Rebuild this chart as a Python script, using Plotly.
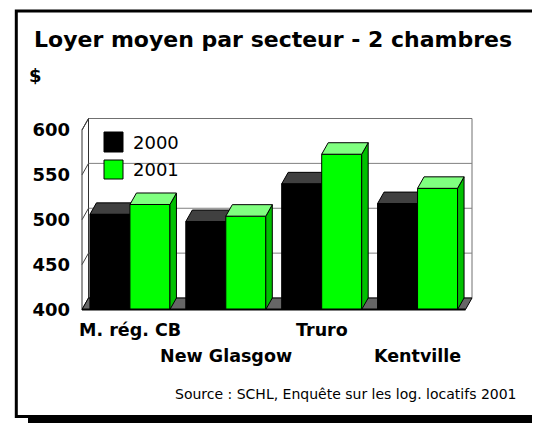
import plotly.graph_objects as go

# ---------------- data ----------------
categories = ["M. rég. CB", "New Glasgow", "Truro", "Kentville"]
series_names = ["2000", "2001"]
rent_2000 = [506, 498, 540, 518]
rent_2001 = [517, 504, 573, 535]
y_ticks = [400, 450, 500, 550, 600]
title_text = "Loyer moyen par secteur - 2 chambres"
unit_text = "$"
source_text = "Source : SCHL, Enquête sur les log. locatifs 2001"

# ---------------- styles / geometry ----------------
FONT = "DejaVu Sans"
FRONT = {"2000": "#000000", "2001": "#00FF00"}
TOP = {"2000": "#404040", "2001": "#80FF80"}
SIDE = {"2000": "#202020", "2001": "#00C000"}
FLOOR_VALUE = 400
TOP_VALUE = 600

OFF = 8                      # page body margin of the html page
W, H = 540 - OFF, 423 - OFF
# geometry below is given in page pixels
PL, PR, PT, PB = 76, 478, 112, 314          # plot area edges
FRONT_LEFT_PX = 82
CAT_PX = 95.875
FLOOR_PX = 309.5
UNIT_PX = 0.8975
DX_PX, DY_PX = 6.5, 11.5
BAR_PX = 40

xmin = -0.5 - (FRONT_LEFT_PX - PL) / CAT_PX
xmax = xmin + (PR - PL) / CAT_PX
ymin = FLOOR_VALUE - (PB - FLOOR_PX) / UNIT_PX
ymax = ymin + (PB - PT) / UNIT_PX
dx = DX_PX / CAT_PX
dy = DY_PX / UNIT_PX
bw = BAR_PX / CAT_PX
bargap = 1 - 2 * bw
n = len(categories)
xl_front, xr_front = -0.5, n - 0.5


def px(x):
    return (x - PL) / (PR - PL)


def py(y):
    return (PB - y) / (PB - PT)


def path(pts):
    return "M " + " L ".join(f"{a},{b}" for a, b in pts) + " Z"


shapes = []
# shadow + frame
shapes.append(dict(type="rect", xref="paper", yref="paper", x0=px(28), x1=px(580),
                   y0=py(460), y1=py(20), fillcolor="black", line=dict(width=0), layer="below"))
shapes.append(dict(type="rect", xref="paper", yref="paper", x0=px(16.3), x1=px(536),
                   y0=py(416.5), y1=py(11), fillcolor="white",
                   line=dict(color="black", width=3), layer="below"))
# back wall
shapes.append(dict(type="rect", xref="x", yref="y", x0=xl_front + dx, x1=xr_front + dx,
                   y0=FLOOR_VALUE + dy, y1=TOP_VALUE + dy, fillcolor="white",
                   line=dict(color="#707070", width=1), layer="below"))
# left wall
shapes.append(dict(type="path", xref="x", yref="y",
                   path=path([(xl_front, FLOOR_VALUE), (xl_front, TOP_VALUE),
                              (xl_front + dx, TOP_VALUE + dy), (xl_front + dx, FLOOR_VALUE + dy)]),
                   fillcolor="white", line=dict(color="#303030", width=1), layer="below"))
# gridlines on walls
for v in y_ticks[1:-1]:
    shapes.append(dict(type="line", xref="x", yref="y", x0=xl_front + dx, x1=xr_front + dx,
                       y0=v + dy, y1=v + dy, line=dict(color="#808080", width=1), layer="below"))
for v in y_ticks[1:]:
    shapes.append(dict(type="line", xref="x", yref="y", x0=xl_front, x1=xl_front + dx,
                       y0=v, y1=v + dy, line=dict(color="#404040", width=1), layer="below"))
# floor
shapes.append(dict(type="path", xref="x", yref="y",
                   path=path([(xl_front, FLOOR_VALUE), (xr_front, FLOOR_VALUE),
                              (xr_front + dx, FLOOR_VALUE + dy), (xl_front + dx, FLOOR_VALUE + dy)]),
                   fillcolor="#666666", line=dict(color="black", width=1), layer="below"))

# 3D faces for the 2000 bars (drawn below the front faces)
for i, v in enumerate(rent_2000):
    a, b = i - bw, i
    shapes.append(dict(type="path", xref="x", yref="y",
                       path=path([(b, FLOOR_VALUE), (b, v), (b + dx, v + dy), (b + dx, FLOOR_VALUE + dy)]),
                       fillcolor=SIDE["2000"], line=dict(color="black", width=1), layer="below"))
    shapes.append(dict(type="path", xref="x", yref="y",
                       path=path([(a, v), (b, v), (b + dx, v + dy), (a + dx, v + dy)]),
                       fillcolor=TOP["2000"], line=dict(color="black", width=1), layer="below"))

# floor front edge
shapes.append(dict(type="line", xref="x", yref="y", x0=xl_front, x1=xr_front,
                   y0=FLOOR_VALUE, y1=FLOOR_VALUE, line=dict(color="black", width=2), layer="above"))

# legend boxes
LEG_X0, LEG_X1 = 104, 123
leg_rows = [(132, 152), (160, 179)]
for name, (y0, y1) in zip(series_names, leg_rows):
    shapes.append(dict(type="rect", xref="paper", yref="paper", x0=px(LEG_X0), x1=px(LEG_X1),
                       y0=py(y1), y1=py(y0), fillcolor=FRONT[name],
                       line=dict(color="black", width=1), layer="above"))

fig = go.Figure()
idx = list(range(n))
for name, vals in zip(series_names, [rent_2000, rent_2001]):
    fig.add_trace(go.Bar(x=idx, y=[v - FLOOR_VALUE for v in vals], base=FLOOR_VALUE,
                         name=name, marker=dict(color=FRONT[name], line=dict(color="black", width=1)),
                         showlegend=False, hoverinfo="skip"))

# 3D faces for the 2001 bars (above the fronts)
for i, v in enumerate(rent_2001):
    a, b = i, i + bw
    side = [(b, FLOOR_VALUE), (b, v), (b + dx, v + dy), (b + dx, FLOOR_VALUE + dy), (b, FLOOR_VALUE)]
    top = [(a, v), (b, v), (b + dx, v + dy), (a + dx, v + dy), (a, v)]
    for pts, col in [(side, SIDE["2001"]), (top, TOP["2001"])]:
        fig.add_trace(go.Scatter(x=[p[0] for p in pts], y=[p[1] for p in pts], mode="lines",
                                 fill="toself", fillcolor=col, line=dict(color="black", width=1),
                                 showlegend=False, hoverinfo="skip"))

annotations = []
annotations.append(dict(text=title_text, xref="paper", yref="paper", x=px(272.5), y=py(40),
                        xanchor="center", yanchor="middle", showarrow=False,
                        font=dict(family=FONT, size=22, color="black", weight="bold")))
annotations.append(dict(text=unit_text, xref="paper", yref="paper", x=px(27), y=py(75),
                        xanchor="left", yanchor="middle", showarrow=False,
                        font=dict(family=FONT, size=18, color="black", weight="bold")))
annotations.append(dict(text=source_text, xref="paper", yref="paper", x=px(519), y=py(394),
                        xanchor="right", yanchor="middle", showarrow=False,
                        font=dict(family=FONT, size=14, color="black")))
row_y = [330, 356]
for i, c in enumerate(categories):
    annotations.append(dict(text=c, xref="x", yref="paper", x=i, y=py(row_y[i % 2]),
                            xanchor="center", yanchor="middle", showarrow=False,
                            font=dict(family=FONT, size=17.5, color="black", weight="bold")))
for name, (y0, y1) in zip(series_names, leg_rows):
    annotations.append(dict(text=name, xref="paper", yref="paper", x=px(131), y=py((y0 + y1) / 2),
                            xanchor="left", yanchor="middle", showarrow=False,
                            font=dict(family=FONT, size=18, color="black")))

fig.update_layout(
    width=W, height=H,
    margin=dict(l=PL - OFF, r=540 - PR, t=PT - OFF, b=423 - PB, pad=0),
    paper_bgcolor="white", plot_bgcolor="rgba(0,0,0,0)",
    barmode="group", bargap=bargap, bargroupgap=0,
    shapes=shapes, annotations=annotations, showlegend=False,
    xaxis=dict(range=[xmin, xmax], showgrid=False, zeroline=False, showline=False,
               showticklabels=False, ticks="", automargin=False, fixedrange=True),
    yaxis=dict(range=[ymin, ymax], tickvals=y_ticks, showgrid=False, zeroline=False,
               showline=False, ticks="", ticklabelstandoff=5, automargin=False,
               tickfont=dict(family=FONT, size=18, color="black", weight="bold"), fixedrange=True),
)

fig.write_html("out.html")
